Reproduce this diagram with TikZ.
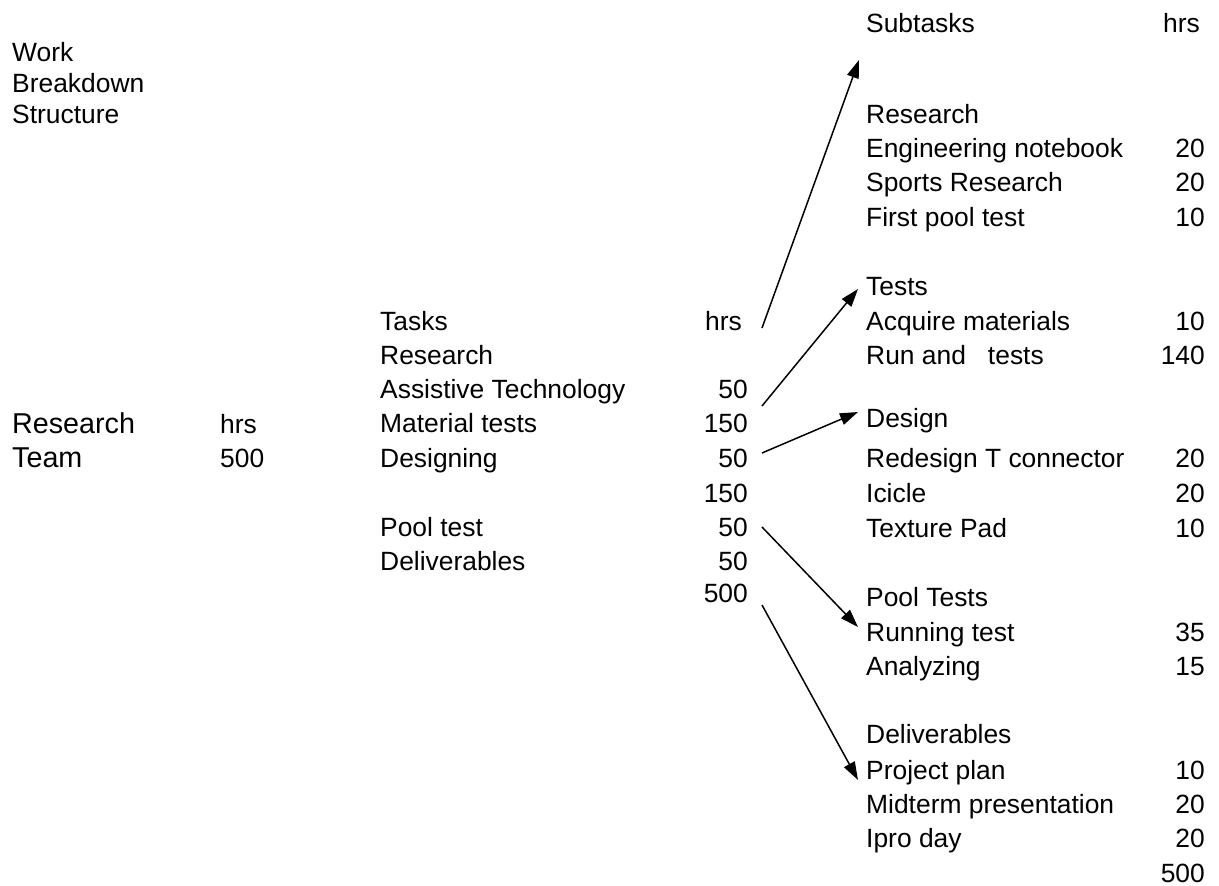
\documentclass[tikz,border=0pt]{standalone}
\usepackage{fontspec}
\setmainfont{Liberation Sans}
\usetikzlibrary{arrows.meta}
\tikzset{
  txt/.style={inner sep=0pt, anchor=base west, font=\fontsize{26.4}{30}\selectfont},
  num/.style={inner sep=0pt, anchor=base east, font=\fontsize{26.4}{30}\selectfont},
  big/.style={inner sep=0pt, anchor=base west, font=\fontsize{28.7}{32}\selectfont},
  arr/.style={-{Triangle[length=18pt,width=12pt]}, line width=1.5pt}
}
\begin{document}
\begin{tikzpicture}[x=1pt,y=-1pt]
\useasboundingbox (0,0) rectangle (1219,886);
% left column
\node[txt] (work) at (12,61) {Work};
\node[txt] (breakdown) at (12,92) {Breakdown};
\node[txt] (structure) at (12,123) {Structure};
\node[big] (rteam1) at (12,433) {Research};
\node[big] (rteam2) at (12,467) {Team};
\node[txt] (lhrs) at (220,433) {hrs};
\node[txt] (l500) at (220,467) {500};
% middle column
\node[txt] (tasks) at (380,330) {Tasks};
\node[txt] (thrs) at (705,330) {hrs};
\node[txt] (tres) at (380,364) {Research};
\node[txt] (tassist) at (380,398) {Assistive Technology};
\node[num] (nassist) at (748,398) {50};
\node[txt] (tmat) at (380,432) {Material tests};
\node[num] (nmat) at (748,432) {150};
\node[txt] (tdes) at (380,467) {Designing};
\node[num] (ndes) at (748,467) {50};
\node[num] (n150) at (748,502) {150};
\node[txt] (tpool) at (380,536) {Pool test};
\node[num] (npool) at (748,536) {50};
\node[txt] (tdel) at (380,570) {Deliverables};
\node[num] (ndel) at (748,570) {50};
\node[num] (mtotal) at (748,602) {500};
% right column
\node[txt] (subtasks) at (866,32) {Subtasks};
\node[txt] (shrs) at (1163,32) {hrs};
\node[txt] (sres) at (866,123) {Research};
\node[txt] (seng) at (866,157) {Engineering notebook};
\node[num] (neng) at (1205,157) {20};
\node[txt] (ssport) at (866,191) {Sports Research};
\node[num] (nsport) at (1205,191) {20};
\node[txt] (sfirst) at (866,226) {First pool test};
\node[num] (nfirst) at (1205,226) {10};
\node[txt] (stests) at (866,295) {Tests};
\node[txt] (sacq) at (866,330) {Acquire materials};
\node[num] (nacq) at (1205,330) {10};
\node[txt] (srun) at (866,364) {Run and~~~tests};
\node[num] (nrun) at (1205,364) {140};
\node[txt] (sdesign) at (866,427) {Design};
\node[txt] (sredes) at (866,467) {Redesign T connector};
\node[num] (nredes) at (1205,467) {20};
\node[txt] (sicicle) at (866,502) {Icicle};
\node[num] (nicicle) at (1205,502) {20};
\node[txt] (stex) at (866,537) {Texture Pad};
\node[num] (ntex) at (1205,537) {10};
\node[txt] (spool) at (866,606) {Pool Tests};
\node[txt] (srunning) at (866,641) {Running test};
\node[num] (nrunning) at (1205,641) {35};
\node[txt] (sanal) at (866,675) {Analyzing};
\node[num] (nanal) at (1205,675) {15};
\node[txt] (sdeliv) at (866,743) {Deliverables};
\node[txt] (sproj) at (866,779) {Project plan};
\node[num] (nproj) at (1205,779) {10};
\node[txt] (smid) at (866,813) {Midterm presentation};
\node[num] (nmid) at (1205,813) {20};
\node[txt] (sipro) at (866,847) {Ipro day};
\node[num] (nipro) at (1205,847) {20};
\node[num] (rtotal) at (1205,882) {500};
% arrow ends
\coordinate (a1s) at (762,328);
\coordinate (a1e) at (859,60);
\coordinate (a2s) at (762,406);
\coordinate (a2e) at (858,289);
\coordinate (a3s) at (762,453);
\coordinate (a3e) at (858,412);
\coordinate (a4s) at (762,527);
\coordinate (a4e) at (858,627);
\coordinate (a5s) at (762,605);
\coordinate (a5e) at (858,780);
\draw[arr] (a1s) -- (a1e);
\draw[arr] (a2s) -- (a2e);
\draw[arr] (a3s) -- (a3e);
\draw[arr] (a4s) -- (a4e);
\draw[arr] (a5s) -- (a5e);
\end{tikzpicture}
\end{document}
